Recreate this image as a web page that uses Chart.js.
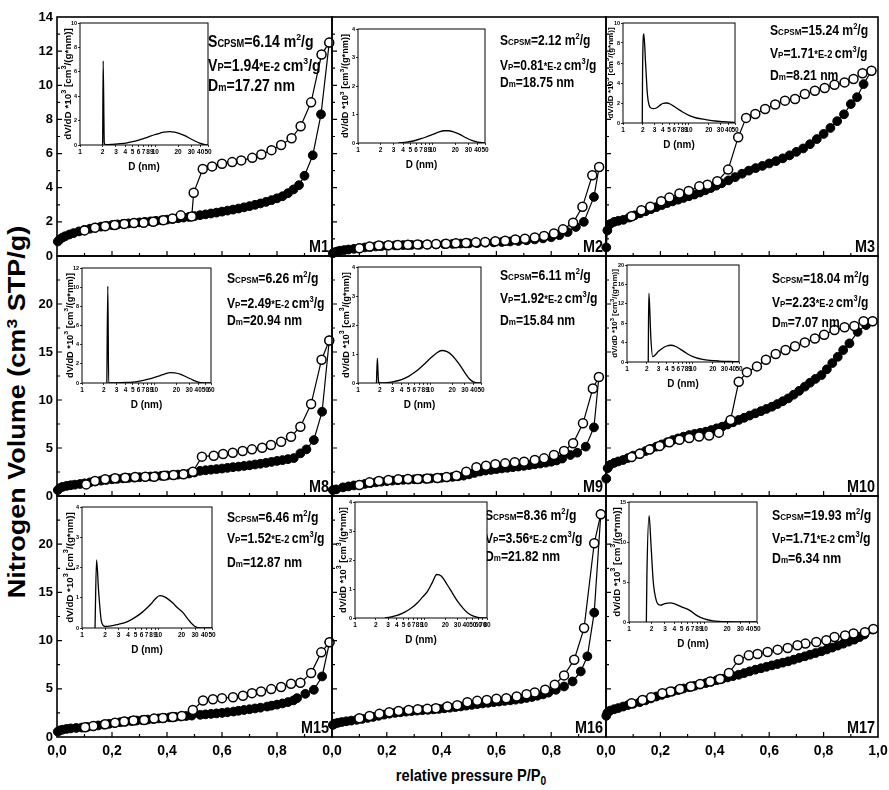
<!DOCTYPE html>
<html>
<head>
<meta charset="utf-8">
<script src="https://cdn.jsdelivr.net/npm/chart.js@4.4.0/dist/chart.umd.min.js"></script>
<style>
html, body { margin: 0; padding: 0; background: #fff; }
#wrap { position: relative; width: 889px; height: 790px; overflow: hidden; }
#wrap canvas { position: absolute; }
.ttl { position: absolute; font-family: "Liberation Sans", Arial, sans-serif; font-weight: bold; color: #000; white-space: nowrap; line-height: 1; }
.sup { font-size: 0.65em; position: relative; top: -0.55em; }
.sub { font-size: 0.7em; position: relative; top: 0.3em; }
</style>
</head>
<body>
<div id="wrap">
  <div class="ttl" id="ytitle" style="font-size:27px;left:18px;top:412px;transform:translate(-50%,-50%) rotate(-90deg) scale(1,0.87);">Nitrogen Volume (cm<span class="sup">3</span> STP/g)</div>
  <div class="ttl" id="xtitle" style="font-size:17px;left:471px;top:775px;transform:translate(-50%,-50%) scale(0.86,1);">relative pressure P/P<span class="sub">0</span></div>
</div>
<script>
// isotherms: relative pressure P/P0 and volume (cm3 STP/g)
const m1AdsP = [0.003,0.01,0.02,0.03,0.045,0.06,0.08,0.10,0.12,0.14,0.16,0.18,0.20,0.22,0.24,0.26,0.28,0.30,0.32,0.34,0.36,0.38,0.40,0.42,0.44,0.46,0.48,0.50,0.52,0.54,0.56,0.58,0.60,0.62,0.64,0.66,0.68,0.70,0.72,0.74,0.76,0.78,0.80,0.82,0.84,0.86,0.88,0.90,0.93,0.96,0.99];
const m1AdsV = [0.85,0.98,1.08,1.16,1.26,1.34,1.44,1.53,1.6,1.66,1.72,1.77,1.81,1.85,1.88,1.91,1.94,1.97,2.0,2.03,2.06,2.09,2.13,2.17,2.21,2.25,2.29,2.34,2.39,2.44,2.49,2.54,2.6,2.66,2.72,2.78,2.85,2.92,3.0,3.08,3.17,3.27,3.38,3.5,3.68,3.9,4.15,4.7,5.9,8.3,12.5];
const m1DesP = [0.99,0.962,0.924,0.886,0.853,0.815,0.78,0.743,0.71,0.67,0.637,0.60,0.564,0.53,0.497,0.49,0.45,0.42,0.387,0.35,0.315,0.28,0.245,0.21,0.175,0.138,0.10];
const m1DesV = [12.5,11.8,9.0,7.6,6.9,6.5,6.2,5.95,5.75,5.6,5.5,5.4,5.25,5.1,3.7,2.32,2.38,2.2,2.1,2.0,1.95,1.93,1.88,1.82,1.75,1.66,1.5];

const m2AdsP = [0.003,0.01,0.02,0.03,0.045,0.06,0.08,0.10,0.12,0.14,0.16,0.18,0.20,0.23,0.26,0.29,0.32,0.35,0.38,0.41,0.44,0.47,0.50,0.53,0.56,0.59,0.62,0.65,0.68,0.71,0.74,0.77,0.80,0.83,0.86,0.89,0.919,0.956,0.975];
const m2AdsV = [0.16,0.22,0.27,0.31,0.35,0.38,0.42,0.46,0.5,0.53,0.56,0.58,0.6,0.62,0.64,0.65,0.66,0.67,0.68,0.7,0.71,0.73,0.74,0.76,0.78,0.8,0.82,0.85,0.88,0.92,0.97,1.03,1.1,1.22,1.4,1.7,2.0,3.46,5.21];
const m2DesP = [0.975,0.95,0.914,0.88,0.843,0.81,0.774,0.74,0.704,0.669,0.632,0.596,0.559,0.525,0.489,0.452,0.416,0.38,0.347,0.312,0.277,0.24,0.206,0.171,0.137,0.10];
const m2DesV = [5.21,4.73,2.88,1.95,1.56,1.32,1.17,1.09,1.01,0.97,0.89,0.86,0.82,0.80,0.76,0.74,0.72,0.70,0.68,0.68,0.66,0.64,0.63,0.61,0.55,0.45];

const m3AdsP = [0.001,0.005,0.015,0.03,0.045,0.064,0.085,0.105,0.125,0.145,0.165,0.185,0.205,0.225,0.245,0.265,0.285,0.305,0.325,0.345,0.365,0.385,0.405,0.425,0.45,0.475,0.50,0.525,0.55,0.575,0.60,0.625,0.65,0.675,0.70,0.725,0.75,0.775,0.80,0.825,0.85,0.875,0.90,0.923,0.947,0.976];
const m3AdsV = [0.5,1.5,1.87,2.0,2.06,2.12,2.25,2.38,2.5,2.62,2.74,2.86,2.98,3.1,3.2,3.3,3.4,3.5,3.6,3.72,3.85,3.98,4.12,4.26,4.43,4.62,4.82,5.0,5.15,5.28,5.42,5.56,5.72,5.9,6.1,6.3,6.55,6.85,7.15,7.5,7.9,8.3,8.9,9.3,10.07,10.85];
const m3DesP = [0.976,0.943,0.91,0.877,0.84,0.804,0.768,0.731,0.695,0.658,0.622,0.585,0.549,0.515,0.486,0.449,0.409,0.373,0.343,0.304,0.27,0.233,0.203,0.163,0.13,0.094];
const m3DesV = [10.85,10.7,10.37,10.17,10.03,9.84,9.68,9.49,9.2,9.1,8.87,8.61,8.32,8.09,6.96,5.06,4.38,4.18,4.08,3.81,3.66,3.42,3.21,2.88,2.68,2.33];

const m8AdsP = [0.003,0.01,0.02,0.035,0.05,0.065,0.084,0.10,0.12,0.14,0.16,0.18,0.20,0.22,0.24,0.26,0.28,0.30,0.32,0.34,0.36,0.38,0.40,0.42,0.44,0.46,0.48,0.50,0.52,0.54,0.56,0.58,0.60,0.62,0.64,0.66,0.68,0.70,0.72,0.74,0.76,0.78,0.80,0.82,0.84,0.861,0.885,0.907,0.934,0.964,0.99];
const m8AdsV = [0.62,0.82,0.95,1.05,1.12,1.18,1.25,1.32,1.42,1.52,1.6,1.68,1.74,1.79,1.84,1.88,1.92,1.96,2.0,2.03,2.06,2.1,2.14,2.18,2.23,2.28,2.34,2.45,2.62,2.68,2.74,2.8,2.86,2.93,3.0,3.06,3.13,3.2,3.28,3.36,3.45,3.55,3.65,3.74,3.84,3.95,4.44,4.86,5.83,8.78,16.2];
const m8DesP = [0.99,0.962,0.924,0.885,0.851,0.815,0.778,0.746,0.709,0.675,0.639,0.604,0.57,0.527,0.494,0.46,0.424,0.39,0.353,0.321,0.284,0.248,0.211,0.175,0.138,0.106];
const m8DesV = [16.2,14.2,9.58,7.22,6.18,5.66,5.31,5.03,4.86,4.69,4.51,4.37,4.2,4.1,2.53,2.26,2.19,2.12,2.01,2.01,1.98,1.91,1.84,1.74,1.56,1.21];

const m9AdsP = [0.003,0.015,0.04,0.06,0.08,0.10,0.12,0.14,0.16,0.18,0.20,0.22,0.24,0.26,0.28,0.30,0.32,0.34,0.36,0.38,0.40,0.42,0.44,0.46,0.48,0.50,0.52,0.54,0.56,0.58,0.60,0.62,0.64,0.66,0.68,0.70,0.72,0.74,0.76,0.78,0.80,0.82,0.84,0.87,0.895,0.926,0.956,0.974];
const m9AdsV = [0.62,0.69,0.9,1.0,1.1,1.17,1.26,1.34,1.42,1.49,1.55,1.6,1.64,1.68,1.71,1.74,1.77,1.8,1.83,1.86,1.9,1.94,1.99,2.05,2.12,2.25,2.4,2.55,2.65,2.72,2.8,2.87,2.94,3.0,3.07,3.14,3.22,3.3,3.38,3.47,3.57,3.7,3.9,4.27,4.51,5.14,7.15,12.4];
const m9DesP = [0.974,0.952,0.916,0.88,0.847,0.81,0.774,0.74,0.701,0.667,0.632,0.596,0.562,0.527,0.49,0.454,0.418,0.385,0.348,0.313,0.277,0.242,0.206,0.171,0.137,0.10];
const m9DesV = [12.4,11.2,7.57,5.49,4.69,4.27,3.92,3.75,3.58,3.51,3.4,3.3,3.16,2.99,2.53,2.12,1.98,1.88,1.81,1.77,1.77,1.74,1.67,1.56,1.42,1.15];

const m10AdsP = [0.001,0.006,0.015,0.03,0.045,0.063,0.08,0.10,0.124,0.145,0.165,0.185,0.205,0.225,0.245,0.265,0.285,0.306,0.326,0.346,0.367,0.387,0.407,0.427,0.447,0.467,0.488,0.508,0.528,0.549,0.57,0.59,0.61,0.63,0.65,0.67,0.69,0.71,0.731,0.75,0.77,0.792,0.812,0.832,0.852,0.872,0.895,0.925,0.956,0.98];
const m10AdsV = [1.8,2.9,3.23,3.45,3.6,3.75,3.95,4.2,4.44,4.68,4.91,5.14,5.37,5.6,5.83,6.0,6.18,6.35,6.47,6.58,6.7,6.87,7.05,7.22,7.45,7.68,7.92,8.15,8.38,8.61,8.84,9.07,9.3,9.58,9.87,10.17,10.55,10.95,11.39,11.8,12.2,12.6,13.2,13.85,14.5,15.2,15.9,17.1,17.8,18.2];
const m10DesP = [0.98,0.947,0.913,0.877,0.84,0.802,0.768,0.731,0.695,0.66,0.624,0.588,0.555,0.518,0.488,0.458,0.415,0.379,0.342,0.306,0.27,0.233,0.197,0.16,0.124,0.094];
const m10DesV = [18.2,18.2,17.7,17.57,17.3,16.8,16.4,16.0,15.6,15.2,14.8,14.2,13.5,12.9,11.9,7.92,6.6,6.3,6.2,6.05,5.85,5.6,5.2,4.85,4.4,4.05];

const m15AdsP = [0.003,0.01,0.02,0.035,0.05,0.07,0.09,0.11,0.13,0.15,0.17,0.19,0.21,0.23,0.25,0.27,0.29,0.31,0.33,0.35,0.37,0.39,0.41,0.43,0.45,0.47,0.49,0.521,0.54,0.56,0.58,0.60,0.62,0.642,0.66,0.68,0.70,0.72,0.74,0.764,0.78,0.80,0.82,0.84,0.86,0.873,0.903,0.934,0.964,0.991];
const m15AdsV = [0.55,0.68,0.76,0.84,0.89,0.94,0.98,1.04,1.12,1.2,1.29,1.37,1.45,1.53,1.6,1.66,1.71,1.76,1.81,1.87,1.93,1.99,2.04,2.09,2.13,2.18,2.22,2.3,2.35,2.4,2.45,2.5,2.57,2.64,2.72,2.8,2.88,2.96,3.04,3.16,3.25,3.36,3.48,3.62,3.8,4.03,4.48,4.9,6.28,9.82];
const m15DesP = [0.991,0.961,0.924,0.885,0.851,0.815,0.779,0.742,0.709,0.676,0.64,0.6,0.567,0.531,0.494,0.454,0.421,0.385,0.353,0.317,0.278,0.244,0.211,0.175,0.132,0.102];
const m15DesV = [9.82,8.78,6.63,5.62,5.52,5.18,4.97,4.72,4.55,4.27,4.13,4.03,3.92,3.78,2.81,2.19,2.08,1.98,1.91,1.77,1.7,1.6,1.49,1.32,1.14,1.0];

const m16AdsP = [0.003,0.01,0.021,0.035,0.052,0.07,0.09,0.11,0.13,0.15,0.17,0.19,0.21,0.23,0.25,0.27,0.29,0.31,0.33,0.35,0.37,0.39,0.41,0.43,0.45,0.47,0.49,0.51,0.53,0.55,0.57,0.59,0.61,0.63,0.65,0.67,0.69,0.71,0.73,0.75,0.77,0.79,0.817,0.847,0.878,0.908,0.932,0.957,0.981];
const m16AdsV = [1.25,1.38,1.47,1.55,1.63,1.7,1.78,1.88,1.98,2.08,2.2,2.32,2.42,2.5,2.57,2.63,2.69,2.74,2.78,2.82,2.87,2.92,2.98,3.04,3.1,3.17,3.25,3.33,3.41,3.48,3.55,3.62,3.68,3.74,3.8,3.87,3.95,4.05,4.15,4.28,4.42,4.6,4.9,5.24,5.76,6.8,8.37,12.9,23.1];
const m16DesP = [0.981,0.957,0.92,0.884,0.847,0.813,0.778,0.74,0.71,0.674,0.636,0.6,0.565,0.53,0.494,0.457,0.421,0.379,0.348,0.313,0.28,0.243,0.209,0.173,0.137,0.10];
const m16DesV = [23.1,20.1,11.3,8.02,6.39,5.42,4.9,4.62,4.44,4.2,4.03,3.96,3.85,3.75,3.61,3.3,3.16,2.99,2.92,2.88,2.81,2.71,2.57,2.4,2.19,1.94];

const m17AdsP = [0.001,0.005,0.015,0.03,0.045,0.063,0.08,0.10,0.124,0.145,0.165,0.185,0.205,0.225,0.245,0.265,0.285,0.306,0.326,0.346,0.367,0.387,0.407,0.427,0.447,0.467,0.488,0.508,0.528,0.549,0.57,0.59,0.61,0.63,0.65,0.67,0.69,0.71,0.731,0.75,0.77,0.792,0.812,0.832,0.852,0.872,0.892,0.913,0.932,0.95,0.98];
const m17AdsV = [2.2,2.5,2.74,2.88,3.0,3.16,3.3,3.45,3.61,3.8,4.0,4.2,4.37,4.55,4.72,4.87,5.03,5.18,5.31,5.45,5.59,5.74,5.89,6.04,6.18,6.32,6.46,6.63,6.81,6.98,7.13,7.28,7.43,7.57,7.71,7.85,8.02,8.2,8.37,8.54,8.71,8.89,9.08,9.28,9.48,9.68,9.89,10.1,10.36,10.63,11.15];
const m17DesP = [0.983,0.952,0.91,0.879,0.84,0.81,0.773,0.733,0.704,0.668,0.631,0.594,0.557,0.525,0.488,0.452,0.419,0.383,0.346,0.312,0.272,0.237,0.207,0.166,0.134,0.094];
const m17DesV = [11.2,10.86,10.73,10.52,10.38,10.03,9.86,9.69,9.51,9.24,9.06,8.82,8.61,8.47,8.02,6.63,6.01,5.76,5.49,5.24,4.97,4.72,4.55,4.13,3.85,3.51];

// pore size distributions: D (nm) and dV/dD *10^3
const m1PsdD = [2.0,2.03,2.1,2.2,2.7,3.2,4.1,5,6,6.8,8,9.5,11.4,13,15.4,18,21,25,28.5,33,38.7,44,50];
const m1PsdV = [0,6.9,0.2,0.02,0.05,0.09,0.16,0.27,0.4,0.5,0.65,0.82,0.96,1.05,1.1,1.05,0.93,0.75,0.55,0.35,0.16,0.06,0];
const m2PsdD = [3.5,4.5,5.5,7,8.5,10,12,14,16,19,23,28,34,40,50];
const m2PsdV = [0,0.03,0.07,0.15,0.23,0.3,0.38,0.43,0.43,0.39,0.3,0.18,0.08,0.03,0];
const m3PsdD = [1.96,1.98,2.07,2.2,2.35,2.5,2.7,2.9,3.2,3.6,4.0,4.6,5.2,6,7,8,10,13,18,25,33,50];
const m3PsdV = [0,5,8.9,6.0,2.8,1.75,1.48,1.44,1.5,1.75,1.95,2.0,1.9,1.65,1.35,1.1,0.77,0.5,0.34,0.2,0.13,0.05];
const m8PsdD = [2.2,2.27,2.33,3,4,5,6,7,8.5,10,12,14,16.5,19,23,28,34,40,47,60];
const m8PsdV = [0,10.1,0,0.01,0.05,0.1,0.18,0.27,0.42,0.58,0.78,0.95,1.08,1.05,0.9,0.6,0.3,0.1,0.02,0];
const m9PsdD = [1.8,1.85,1.92,2.0,2.5,3,4,5,6,7,8.5,10,12,14.4,17,20,25,30,35,40,45,50];
const m9PsdV = [0,0.86,0.05,0,0.01,0.04,0.12,0.23,0.36,0.49,0.68,0.85,1.02,1.12,1.08,0.95,0.65,0.35,0.13,0.03,0,0];
const m10PsdD = [2.1,2.12,2.15,2.3,2.45,2.7,3.0,3.5,4.0,4.6,5.5,6.5,8,9,11,14,18,25,35,50];
const m10PsdV = [0,8,14.2,5,1.1,1.5,2.2,2.9,3.3,3.45,3.2,2.6,1.8,1.4,0.9,0.55,0.35,0.2,0.1,0.05];
const m15PsdD = [1.48,1.55,1.65,1.8,2.0,2.5,3,4,5,6,7,8,9,10.4,12,15,18,21,25,30,35,50];
const m15PsdV = [0,2.25,1.2,0.2,0.05,0.08,0.12,0.22,0.36,0.5,0.65,0.8,0.95,1.07,1.03,0.85,0.65,0.5,0.25,0.05,0,0];
const m16PsdD = [2.7,3.2,4.05,4.8,5.65,6.7,7.9,9.4,11.1,13,15.1,17.5,21.6,25.5,30.2,36,42.3,50,59,70,80];
const m16PsdV = [0,0.03,0.09,0.16,0.25,0.37,0.52,0.72,0.92,1.22,1.5,1.45,1.13,0.85,0.57,0.34,0.17,0.07,0.02,0,0];
const m17PsdD = [1.7,1.73,1.85,1.95,2.1,2.3,2.6,3.0,3.5,4.2,5,6.4,8,10,13,20,50];
const m17PsdV = [0,6,13.3,10,5,2.7,2.1,2.3,2.4,2.2,1.9,1.46,0.8,0.4,0.15,0.03,0];

// sample names and the numbers printed in each panel
const NAMES = ['M1','M2','M3','M8','M9','M10','M15','M16','M17'];
const S_AREA = ['6.14','2.12','15.24','6.26','6.11','18.04','6.46','8.36','19.93'];
const V_PORE = ['1.94','0.81','1.71','2.49','1.92','2.23','1.52','3.56','1.71'];
const D_MEAN = ['17.27','18.75','8.21','20.94','15.84','7.07','12.87','21.82','6.34'];

// axis ranges
const ROW_Y_MAX = [14, 25, 25];
const ROW_Y_STEP = [2, 5, 5];
const PSD_Y_MAX = [10, 4, 10, 12, 4, 20, 4, 4, 15];
const PSD_Y_STEP = [2, 1, 2, 2, 1, 4, 1, 1, 5];
const PSD_D_MAX = [50, 50, 50, 60, 50, 50, 50, 80, 50];
const D_TICKS = [1,2,3,4,5,6,7,8,9,10,20,30,40,50,60,70,80];

const ISO = [
  [m1AdsP, m1AdsV, m1DesP, m1DesV], [m2AdsP, m2AdsV, m2DesP, m2DesV], [m3AdsP, m3AdsV, m3DesP, m3DesV],
  [m8AdsP, m8AdsV, m8DesP, m8DesV], [m9AdsP, m9AdsV, m9DesP, m9DesV], [m10AdsP, m10AdsV, m10DesP, m10DesV],
  [m15AdsP, m15AdsV, m15DesP, m15DesV], [m16AdsP, m16AdsV, m16DesP, m16DesV], [m17AdsP, m17AdsV, m17DesP, m17DesV]
];
const PSD = [
  [m1PsdD, m1PsdV], [m2PsdD, m2PsdV], [m3PsdD, m3PsdV], [m8PsdD, m8PsdV], [m9PsdD, m9PsdV],
  [m10PsdD, m10PsdV], [m15PsdD, m15PsdV], [m16PsdD, m16PsdV], [m17PsdD, m17PsdV]
];

// layout (page pixels)
const COLS = [57, 332, 606, 878];
const ROWS = [17, 256, 496, 737];
const INSET_BOX = [[80,23,208,145],[358,29,485,143],[623,23,735,123],[82,268,211,383],[358,267,481,383],[627,265,739,362],[82,507,212,628],[355,502,487,618],[629,502,757,622]];
const NOTE_POS = [[151,30,54,74],[168,28,53,70],[164,18,41,63],[170,27,52,69],[168,24,47,69],[166,27,51,71],[170,26,47,71],[153,24,47,65],[166,24,47,67]];
const NOTE_FONT = [16, 14, 14, 14, 14, 14, 14, 14, 14];
const NOTE_SX = [0.88, 0.86, 0.87, 0.87, 0.87, 0.86, 0.87, 0.87, 0.88];

const FONT = '"Liberation Sans", Arial, Helvetica, sans-serif';
Chart.defaults.font.family = FONT;
Chart.defaults.font.weight = 'bold';
Chart.defaults.color = '#000';

const wrap = document.getElementById('wrap');
function addCanvas(left, top, w, h) {
  const c = document.createElement('canvas');
  c.width = w; c.height = h;
  c.style.left = left + 'px'; c.style.top = top + 'px';
  c.style.width = w + 'px'; c.style.height = h + 'px';
  wrap.appendChild(c);
  return c;
}
function pts(xs, ys) { return xs.map((x, i) => ({x: x, y: ys[i]})); }

// text made of pieces of different size
function richWidth(ctx, parts) {
  let w = 0;
  for (const p of parts) { ctx.font = 'bold ' + p.s + 'px ' + FONT; w += ctx.measureText(p.t).width; }
  return w;
}
function drawRich(ctx, parts) {
  let cx = 0;
  for (const p of parts) {
    ctx.font = 'bold ' + p.s + 'px ' + FONT;
    ctx.fillText(p.t, cx, p.dy || 0);
    cx += ctx.measureText(p.t).width;
  }
}

function panelDecor(k, row) {
  const yMax = ROW_Y_MAX[row], yStep = ROW_Y_STEP[row];
  return {
    id: 'decor' + k,
    beforeDatasetsDraw(chart) {
      const {ctx, chartArea: a, scales: {x, y}} = chart;
      ctx.save();
      ctx.strokeStyle = '#000';
      ctx.lineWidth = 1.6;
      ctx.strokeRect(a.left, a.top, a.right - a.left, a.bottom - a.top);
      ctx.lineWidth = 1.2;
      ctx.beginPath();
      for (let i = 1; i < 10; i++) {
        const px = x.getPixelForValue(i / 10);
        const len = i % 2 ? 3 : 5;
        ctx.moveTo(px, a.bottom); ctx.lineTo(px, a.bottom - len);
      }
      for (let i = 1; i * yStep / 2 < yMax; i++) {
        const py = y.getPixelForValue(i * yStep / 2);
        const len = i % 2 ? 3 : 5;
        ctx.moveTo(a.left, py); ctx.lineTo(a.left + len, py);
      }
      ctx.stroke();
      ctx.restore();
    },
    afterDatasetsDraw(chart) {
      const {ctx, chartArea: a} = chart;
      const np = NOTE_POS[k];
      const big = NOTE_FONT[k], small = big * 0.66, sup = big * 0.62, up = -big * 0.44;
      const lines = [
        [{t:'S',s:big},{t:'CPSM',s:small},{t:'=' + S_AREA[k] + ' m',s:big},{t:'2',s:sup,dy:up},{t:'/g',s:big}],
        [{t:'V',s:big},{t:'P',s:small},{t:'=' + V_PORE[k],s:big},{t:'*E-2 ',s:big * 0.76},{t:'cm',s:big},{t:'3',s:sup,dy:up},{t:'/g',s:big}],
        [{t:'D',s:big},{t:'m',s:small},{t:'=' + D_MEAN[k] + ' nm',s:big}]
      ];
      ctx.save();
      ctx.fillStyle = '#000';
      ctx.textBaseline = 'alphabetic';
      ctx.textAlign = 'left';
      lines.forEach((parts, i) => {
        ctx.save();
        ctx.translate(a.left + np[0], a.top + np[i + 1]);
        ctx.scale(NOTE_SX[k], 1);
        drawRich(ctx, parts);
        ctx.restore();
      });
      ctx.save();
      ctx.translate(a.right - 3, a.bottom - 4);
      ctx.scale(0.9, 1);
      ctx.textAlign = 'right';
      ctx.font = 'bold 16px ' + FONT;
      ctx.fillText(NAMES[k], 0, 0);
      ctx.restore();
      ctx.restore();
    }
  };
}

function insetDecor(k) {
  return {
    id: 'inset' + k,
    beforeDraw(chart) {
      const {ctx, chartArea: a} = chart;
      ctx.save();
      ctx.fillStyle = '#fff';
      ctx.fillRect(a.left, a.top, a.right - a.left, a.bottom - a.top);
      ctx.restore();
    },
    afterDraw(chart) {
      const {ctx, chartArea: a} = chart;
      ctx.save();
      ctx.strokeStyle = '#000';
      ctx.lineWidth = 1;
      ctx.strokeRect(a.left, a.top, a.right - a.left, a.bottom - a.top);
      ctx.fillStyle = '#000';
      ctx.textBaseline = 'alphabetic';
      ctx.textAlign = 'left';
      // x title
      ctx.save();
      ctx.translate((a.left + a.right) / 2, a.bottom + 25);
      ctx.scale(0.9, 1);
      const xp = [{t:'D (nm)', s:11}];
      ctx.translate(-richWidth(ctx, xp) / 2, 0);
      drawRich(ctx, xp);
      ctx.restore();
      // y title
      const f = (a.bottom - a.top) / 12.4;
      const yp = [{t:'dV/dD *10',s:f},{t:'3',s:f*0.75,dy:-f*0.5},{t:' [cm',s:f},{t:'3',s:f*0.75,dy:-f*0.5},{t:'/(g*nm)]',s:f}];
      ctx.save();
      ctx.translate(a.left - 12.5, (a.top + a.bottom) / 2);
      ctx.rotate(-Math.PI / 2);
      ctx.scale(1, 0.9);
      ctx.translate(-richWidth(ctx, yp) / 2, f * 0.36);
      drawRich(ctx, yp);
      ctx.restore();
      ctx.restore();
    }
  };
}

// main isotherm panels: axis boxes have fixed sizes so the plot area lands on the panel box
const OUT = {left: 60, right: 24, top: 12, bottom: 40};
const Y_BOX = 56, X_BOX = 36;
for (let k = 0; k < 9; k++) {
  const row = Math.floor(k / 3), col = k % 3;
  const L = COLS[col], R = COLS[col + 1], T = ROWS[row], B = ROWS[row + 1];
  const cv = addCanvas(L - OUT.left, T - OUT.top, R - L + OUT.left + OUT.right, B - T + OUT.top + OUT.bottom);
  const iso = ISO[k];
  const yMax = ROW_Y_MAX[row];
  new Chart(cv, {
    type: 'line',
    data: {
      datasets: [
        { label: 'desorption', data: pts(iso[2], iso[3]), borderColor: '#000', borderWidth: 1.2,
          pointRadius: 4.5, pointBackgroundColor: '#fff', pointBorderColor: '#000', pointBorderWidth: 1.5,
          tension: 0, clip: false },
        { label: 'adsorption', data: pts(iso[0], iso[1]), borderColor: '#000', borderWidth: 1.2,
          pointRadius: 4.4, pointBackgroundColor: '#000', pointBorderColor: '#000', pointBorderWidth: 1,
          tension: 0, clip: false }
      ]
    },
    options: {
      responsive: false,
      animation: false,
      events: [],
      layout: { padding: { left: OUT.left - Y_BOX, right: OUT.right, top: OUT.top, bottom: OUT.bottom - X_BOX } },
      plugins: { legend: { display: false }, tooltip: { enabled: false } },
      scales: {
        x: {
          type: 'linear', min: 0, max: 1,
          afterFit: s => { s.height = X_BOX; },
          grid: { display: false, drawTicks: false },
          border: { display: false },
          ticks: {
            display: row === 2, stepSize: 0.2, padding: 6, autoSkip: false, maxRotation: 0, minRotation: 0,
            font: { size: 14, weight: 'bold' },
            callback: v => (col < 2 && v > 0.99) ? '' : v.toFixed(1).replace('.', ',')
          }
        },
        y: {
          min: 0, max: yMax,
          afterFit: s => { s.width = Y_BOX; },
          grid: { display: false, drawTicks: false },
          border: { display: false },
          ticks: {
            display: col === 0, stepSize: ROW_Y_STEP[row], padding: 4,
            font: { size: 13, weight: 'bold' },
            callback: v => (row > 0 && v === yMax) ? '' : String(v)
          }
        }
      }
    },
    plugins: [panelDecor(k, row)]
  });
}

// pore size distribution insets
const IOUT = {left: 30, right: 12, top: 8, bottom: 32};
const IY_BOX = 28, IX_BOX = 14;
for (let k = 0; k < 9; k++) {
  const [L, T, R, B] = INSET_BOX[k];
  const cv = addCanvas(L - IOUT.left, T - IOUT.top, R - L + IOUT.left + IOUT.right, B - T + IOUT.top + IOUT.bottom);
  const psd = PSD[k];
  new Chart(cv, {
    type: 'line',
    data: {
      datasets: [{ data: pts(psd[0], psd[1]), borderColor: '#000', borderWidth: 1.3, pointRadius: 0,
        cubicInterpolationMode: 'monotone', fill: false }]
    },
    options: {
      responsive: false,
      animation: false,
      events: [],
      layout: { padding: { left: IOUT.left - IY_BOX, right: IOUT.right, top: IOUT.top, bottom: IOUT.bottom - IX_BOX } },
      plugins: { legend: { display: false }, tooltip: { enabled: false } },
      scales: {
        x: {
          type: 'logarithmic', min: 1, max: PSD_D_MAX[k],
          afterFit: s => { s.height = IX_BOX; },
          afterBuildTicks: s => { s.ticks = D_TICKS.filter(v => v <= s.max + 1e-9).map(v => ({value: v})); },
          grid: { drawOnChartArea: false, drawTicks: true, tickLength: 2, color: '#000', lineWidth: 0.8 },
          border: { display: false },
          ticks: { padding: 1, autoSkip: false, maxRotation: 0, minRotation: 0,
            font: { size: 6.5, weight: 'bold' }, callback: v => String(v) }
        },
        y: {
          min: 0, max: PSD_Y_MAX[k],
          afterFit: s => { s.width = IY_BOX; },
          grid: { drawOnChartArea: false, drawTicks: true, tickLength: 2, color: '#000', lineWidth: 0.8 },
          border: { display: false },
          ticks: { stepSize: PSD_Y_STEP[k], padding: 1, font: { size: 5.5, weight: 'bold' } }
        }
      }
    },
    plugins: [insetDecor(k)]
  });
}
</script>
</body>
</html>
